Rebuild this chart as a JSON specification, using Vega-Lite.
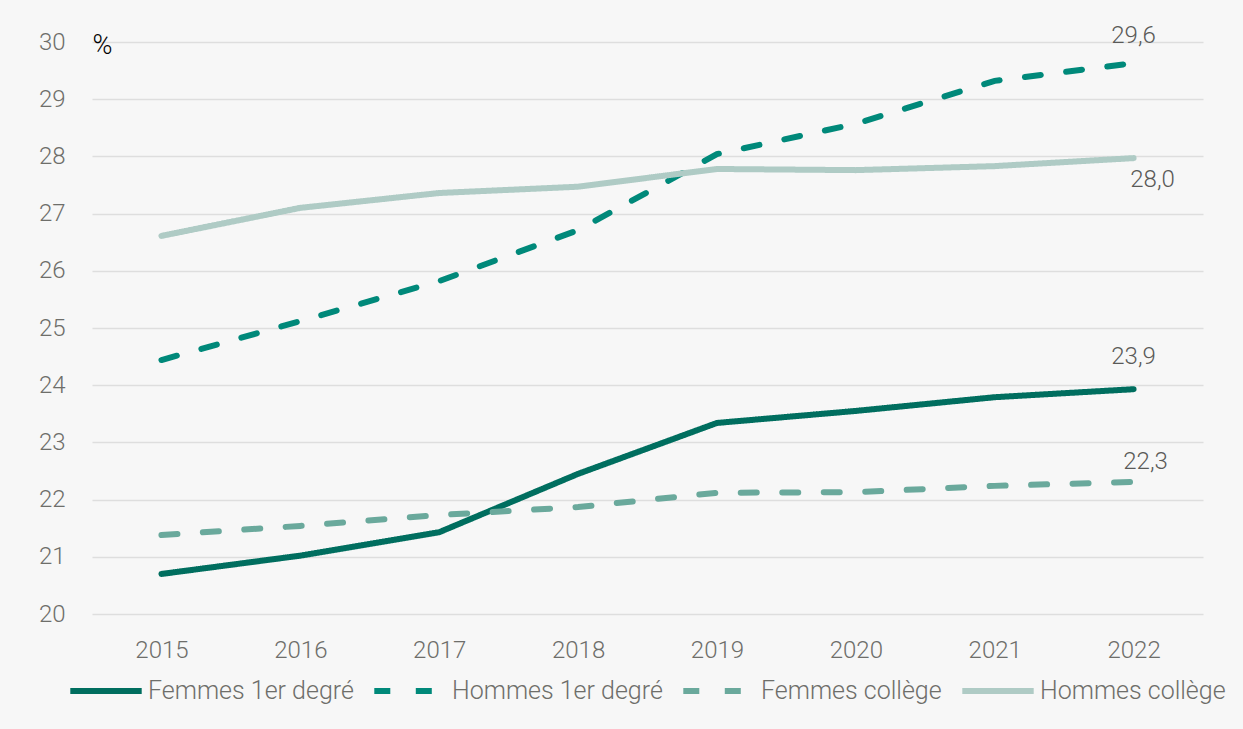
{
  "$schema": "https://vega.github.io/schema/vega-lite/v6.json",
  "width": 1111,
  "height": 572,
  "autosize": "none",
  "padding": {"left": 92, "top": 42, "right": 40, "bottom": 115},
  "background": "#f7f7f7",
  "data": {"values": [
    {"annee": "2015", "serie": "Femmes 1er degré", "v": 20.7},
    {"annee": "2016", "serie": "Femmes 1er degré", "v": 21.02},
    {"annee": "2017", "serie": "Femmes 1er degré", "v": 21.43},
    {"annee": "2018", "serie": "Femmes 1er degré", "v": 22.45},
    {"annee": "2019", "serie": "Femmes 1er degré", "v": 23.34},
    {"annee": "2020", "serie": "Femmes 1er degré", "v": 23.55},
    {"annee": "2021", "serie": "Femmes 1er degré", "v": 23.79},
    {"annee": "2022", "serie": "Femmes 1er degré", "v": 23.93},
    {"annee": "2015", "serie": "Hommes 1er degré", "v": 24.44},
    {"annee": "2016", "serie": "Hommes 1er degré", "v": 25.12},
    {"annee": "2017", "serie": "Hommes 1er degré", "v": 25.82},
    {"annee": "2018", "serie": "Hommes 1er degré", "v": 26.71},
    {"annee": "2019", "serie": "Hommes 1er degré", "v": 28.04},
    {"annee": "2020", "serie": "Hommes 1er degré", "v": 28.57},
    {"annee": "2021", "serie": "Hommes 1er degré", "v": 29.32},
    {"annee": "2022", "serie": "Hommes 1er degré", "v": 29.63},
    {"annee": "2015", "serie": "Femmes collège", "v": 21.38},
    {"annee": "2016", "serie": "Femmes collège", "v": 21.54},
    {"annee": "2017", "serie": "Femmes collège", "v": 21.73},
    {"annee": "2018", "serie": "Femmes collège", "v": 21.87},
    {"annee": "2019", "serie": "Femmes collège", "v": 22.12},
    {"annee": "2020", "serie": "Femmes collège", "v": 22.13},
    {"annee": "2021", "serie": "Femmes collège", "v": 22.24},
    {"annee": "2022", "serie": "Femmes collège", "v": 22.31},
    {"annee": "2015", "serie": "Hommes collège", "v": 26.61},
    {"annee": "2016", "serie": "Hommes collège", "v": 27.1},
    {"annee": "2017", "serie": "Hommes collège", "v": 27.36},
    {"annee": "2018", "serie": "Hommes collège", "v": 27.47},
    {"annee": "2019", "serie": "Hommes collège", "v": 27.78},
    {"annee": "2020", "serie": "Hommes collège", "v": 27.76},
    {"annee": "2021", "serie": "Hommes collège", "v": 27.83},
    {"annee": "2022", "serie": "Hommes collège", "v": 27.97}
  ]},
  "encoding": {
    "x": {"field": "annee", "type": "ordinal", "scale": {"type": "point", "padding": 0.5},
      "axis": {"title": null, "labelAngle": 0, "domain": false, "ticks": false, "grid": false, "labelPadding": 24, "labelFontSize": 24, "labelColor": "#6e6e6a", "labelFont": "Roboto", "labelFontWeight": 300}},
    "y": {"field": "v", "type": "quantitative", "scale": {"domain": [20, 30], "nice": false, "zero": false},
      "axis": {"title": "%", "titleAngle": 0, "titleX": 0, "titleY": 3, "titleAlign": "left", "titleBaseline": "middle", "titleColor": "#000000", "titleFont": "Roboto", "titleFontSize": 27, "titleFontWeight": 300,
        "tickCount": 10, "domain": false, "ticks": false, "labelPadding": 27, "labelFontSize": 24, "labelColor": "#6e6e6a", "labelFont": "Roboto", "labelFontWeight": 300, "gridColor": "#dedede", "gridWidth": 1.5}}
  },
  "layer": [
    {
      "mark": {"type": "line", "strokeWidth": 6, "strokeCap": "round"},
      "encoding": {
        "color": {"field": "serie", "type": "nominal",
          "scale": {"domain": ["Femmes 1er degré", "Hommes 1er degré", "Femmes collège", "Hommes collège"], "range": ["#006e5f", "#00897a", "#6aa99c", "#afcbc5"]},
          "legend": {"title": null, "orient": "none", "legendX": -25, "legendY": 610, "direction": "horizontal", "symbolType": "stroke", "symbolSize": 5100, "symbolStrokeWidth": 6, "labelFontSize": 25, "labelColor": "#6e6e6a", "labelFont": "Roboto", "labelFontWeight": 300, "labelOffset": 3, "columnPadding": 8, "labelLimit": 400}},
        "strokeDash": {"field": "serie", "type": "nominal",
          "scale": {"domain": ["Femmes 1er degré", "Hommes 1er degré", "Femmes collège", "Hommes collège"], "range": [[1, 0], [16, 25.5], [16, 25.5], [1, 0]]},
          "legend": {"title": null}},
        "order": {"value": 0}
      }
    },
    {
      "transform": [{"filter": "datum.annee == '2022' && datum.serie == 'Hommes 1er degré'"}, {"calculate": "replace(format(datum.v, '.1f'), '.', ',')", "as": "lab"}],
      "mark": {"type": "text", "dy": -27, "fontSize": 24, "font": "Roboto", "fontWeight": 300, "color": "#5a5a58"},
      "encoding": {"text": {"field": "lab"}}
    },
    {
      "transform": [{"filter": "datum.annee == '2022' && datum.serie == 'Hommes collège'"}, {"calculate": "replace(format(datum.v, '.1f'), '.', ',')", "as": "lab"}],
      "mark": {"type": "text", "dy": 22, "dx": 19, "fontSize": 24, "font": "Roboto", "fontWeight": 300, "color": "#5a5a58"},
      "encoding": {"text": {"field": "lab"}}
    },
    {
      "transform": [{"filter": "datum.annee == '2022' && datum.serie == 'Femmes 1er degré'"}, {"calculate": "replace(format(datum.v, '.1f'), '.', ',')", "as": "lab"}],
      "mark": {"type": "text", "dy": -32, "fontSize": 24, "font": "Roboto", "fontWeight": 300, "color": "#5a5a58"},
      "encoding": {"text": {"field": "lab"}}
    },
    {
      "transform": [{"filter": "datum.annee == '2022' && datum.serie == 'Femmes collège'"}, {"calculate": "replace(format(datum.v, '.1f'), '.', ',')", "as": "lab"}],
      "mark": {"type": "text", "dy": -20, "dx": 12, "fontSize": 24, "font": "Roboto", "fontWeight": 300, "color": "#5a5a58"},
      "encoding": {"text": {"field": "lab"}}
    }
  ],
  "config": {"view": {"stroke": null}}
}
